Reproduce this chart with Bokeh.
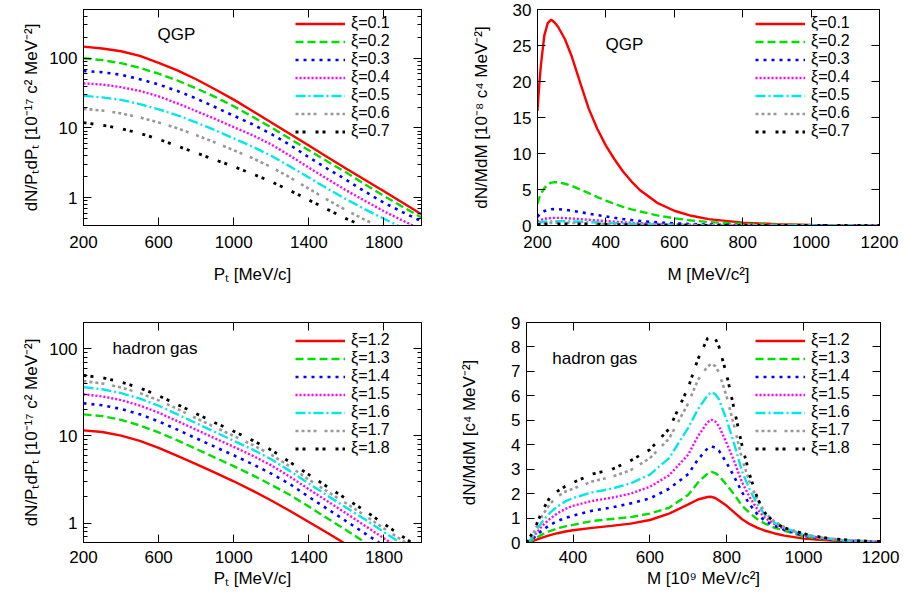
from bokeh.plotting import figure
from bokeh.layouts import column, row
from bokeh.models import (Range1d, FixedTicker, LinearAxis, LogAxis, Label, BasicTickFormatter,
                          CustomJSTickFormatter)
from bokeh.embed import file_html
from bokeh.resources import INLINE

FONT = "Liberation Sans"
FS = "17px"

# ---------------- data ----------------
pt_grid = [200, 300, 400, 500, 600, 700, 800, 900, 1000, 1100, 1200, 1300, 1400, 1500, 1600, 1700, 1800, 1900, 2000]

qgp_xi = ["0.1", "0.2", "0.3", "0.4", "0.5", "0.6", "0.7"]
had_xi = ["1.2", "1.3", "1.4", "1.5", "1.6", "1.7", "1.8"]

qgp_pt_01 = [147, 138, 126, 108, 86, 67, 50, 36, 25.5, 17.5, 12, 8.2, 5.6, 3.8, 2.6, 1.8, 1.24, 0.85, 0.58]
qgp_pt_02 = [100, 94, 85, 73, 60, 48, 37, 28, 20.5, 14.5, 10.2, 7.0, 4.8, 3.3, 2.3, 1.55, 1.06, 0.74, 0.52]
qgp_pt_03 = [65.6, 63, 58, 50, 42, 34, 26.5, 20, 15, 11.3, 8.2, 5.7, 3.8, 2.6, 1.8, 1.22, 0.85, 0.62, 0.46]
qgp_pt_04 = [43.6, 42, 38.5, 34, 28.5, 22.5, 17.5, 13.5, 10.3, 7.9, 5.8, 4.0, 2.7, 1.85, 1.27, 0.9, 0.64, 0.47, 0.35]
qgp_pt_05 = [28.9, 27.5, 25.3, 22, 18.5, 15.2, 12.0, 9.3, 7.1, 5.4, 4.0, 2.8, 1.95, 1.35, 0.95, 0.68, 0.5, 0.37, 0.28]
qgp_pt_06 = [18.8, 17.8, 16.2, 14.2, 12, 9.9, 7.9, 6.2, 4.8, 3.7, 2.75, 1.95, 1.35, 0.93, 0.66, 0.48, 0.36, 0.27, 0.2]
qgp_pt_07 = [11.9, 11, 9.8, 8.4, 6.9, 5.5, 4.4, 3.5, 2.8, 2.2, 1.7, 1.27, 0.93, 0.68, 0.5, 0.38, 0.29, 0.23, 0.18]

had_pt_12 = [11.6, 11.1, 10.1, 8.8, 7.3, 5.9, 4.75, 3.8, 3.02, 2.36, 1.82, 1.38, 1.03, 0.77, 0.57, 0.42, 0.31, 0.23, 0.17]
had_pt_13 = [17.7, 16.9, 15.3, 13.2, 11.0, 8.9, 7.1, 5.65, 4.5, 3.55, 2.75, 2.1, 1.55, 1.13, 0.83, 0.6, 0.44, 0.32, 0.23]
had_pt_14 = [23.7, 22.5, 20.4, 17.7, 14.7, 11.8, 9.4, 7.5, 6.0, 4.75, 3.7, 2.8, 2.0, 1.45, 1.05, 0.76, 0.55, 0.4, 0.29]
had_pt_15 = [30, 28.4, 25.8, 22.3, 18.5, 14.8, 11.8, 9.4, 7.5, 5.95, 4.6, 3.4, 2.45, 1.78, 1.29, 0.93, 0.67, 0.49, 0.36]
had_pt_16 = [36.3, 34.3, 31, 26.8, 22.2, 17.7, 14, 11.1, 8.8, 7.0, 5.4, 3.95, 2.85, 2.06, 1.5, 1.1, 0.79, 0.57, 0.41]
had_pt_17 = [42.5, 40, 36, 31, 25.6, 20.4, 16, 12.6, 10, 7.9, 6.1, 4.45, 3.15, 2.3, 1.68, 1.22, 0.87, 0.63, 0.46]
had_pt_18 = [49.5, 46.5, 41.5, 35.5, 29, 23, 18, 14.2, 11.3, 8.9, 6.9, 5.0, 3.6, 2.6, 1.9, 1.38, 0.98, 0.7, 0.5]

qgp_m = [200, 205, 210, 220, 230, 240, 250, 260, 280, 300, 325, 350, 375, 400, 425, 450, 475, 500, 550, 600, 650, 700, 800, 900, 1000, 1100, 1200]
qgp_m_01 = [15.9, 19.5, 22.3, 26.4, 28.1, 28.6, 28.2, 27.6, 25.9, 23.5, 19.8, 16.2, 13.4, 11.1, 9.2, 7.5, 6.1, 4.9, 3.15, 2.05, 1.35, 0.88, 0.4, 0.18, 0.08, 0.04, 0.02]
qgp_m_02 = [3.0, 3.8, 4.4, 5.2, 5.7, 5.95, 6.0, 6.0, 5.8, 5.5, 5.0, 4.5, 3.95, 3.45, 3.0, 2.6, 2.25, 1.95, 1.4, 1.0, 0.7, 0.48, 0.23, 0.11, 0.05, 0.025, 0.012]
qgp_m_03 = [1.2, 1.5, 1.7, 2.0, 2.15, 2.25, 2.28, 2.28, 2.2, 2.05, 1.85, 1.65, 1.45, 1.25, 1.07, 0.9, 0.76, 0.63, 0.43, 0.29, 0.2, 0.13, 0.06, 0.03, 0.015, 0.007, 0.004]
qgp_m_04 = [0.55, 0.68, 0.78, 0.92, 1.0, 1.04, 1.06, 1.06, 1.03, 0.97, 0.88, 0.79, 0.7, 0.61, 0.53, 0.45, 0.38, 0.32, 0.22, 0.15, 0.1, 0.07, 0.035, 0.017, 0.008, 0.004, 0.002]
qgp_m_05 = [0.32, 0.4, 0.46, 0.53, 0.58, 0.6, 0.61, 0.61, 0.6, 0.57, 0.52, 0.47, 0.42, 0.37, 0.32, 0.28, 0.24, 0.2, 0.14, 0.1, 0.07, 0.05, 0.025, 0.012, 0.006, 0.003, 0.0015]
qgp_m_06 = [0.2, 0.24, 0.28, 0.32, 0.35, 0.37, 0.375, 0.375, 0.37, 0.35, 0.32, 0.29, 0.26, 0.23, 0.2, 0.18, 0.15, 0.13, 0.09, 0.065, 0.045, 0.032, 0.016, 0.008, 0.004, 0.002, 0.001]
qgp_m_07 = [0.12, 0.15, 0.17, 0.2, 0.22, 0.23, 0.235, 0.235, 0.23, 0.22, 0.2, 0.18, 0.165, 0.145, 0.13, 0.11, 0.095, 0.08, 0.06, 0.042, 0.03, 0.021, 0.01, 0.005, 0.0025, 0.0012, 0.0006]

had_m = [279, 290, 300, 320, 340, 360, 380, 400, 450, 500, 550, 600, 650, 700, 725, 750, 760, 770, 780, 800, 820, 840, 860, 880, 900, 925, 950, 1000, 1050, 1100, 1150, 1200]
had_m_12 = [0, 0.03, 0.09, 0.2, 0.3, 0.38, 0.45, 0.5, 0.6, 0.68, 0.77, 0.92, 1.18, 1.56, 1.76, 1.86, 1.87, 1.82, 1.72, 1.5, 1.22, 0.95, 0.75, 0.6, 0.48, 0.37, 0.28, 0.16, 0.1, 0.06, 0.035, 0.02]
had_m_13 = [0, 0.05, 0.15, 0.33, 0.47, 0.58, 0.66, 0.72, 0.88, 0.96, 1.04, 1.18, 1.42, 1.95, 2.45, 2.82, 2.89, 2.84, 2.72, 2.35, 1.95, 1.5, 1.2, 0.95, 0.77, 0.6, 0.48, 0.25, 0.14, 0.08, 0.045, 0.025]
had_m_14 = [0, 0.07, 0.22, 0.5, 0.72, 0.88, 1.0, 1.1, 1.3, 1.43, 1.6, 1.8, 2.2, 2.8, 3.4, 3.85, 3.93, 3.88, 3.75, 3.25, 2.67, 2.05, 1.55, 1.15, 0.88, 0.68, 0.52, 0.28, 0.16, 0.09, 0.05, 0.03]
had_m_15 = [0, 0.1, 0.3, 0.68, 0.97, 1.2, 1.37, 1.5, 1.7, 1.83, 2.0, 2.28, 2.75, 3.6, 4.35, 4.92, 5.02, 4.95, 4.75, 4.05, 3.3, 2.45, 1.85, 1.35, 1.0, 0.75, 0.56, 0.3, 0.17, 0.1, 0.055, 0.03]
had_m_16 = [0, 0.12, 0.38, 0.85, 1.22, 1.48, 1.68, 1.82, 2.05, 2.2, 2.42, 2.78, 3.45, 4.7, 5.45, 6.02, 6.15, 6.07, 5.85, 5.0, 4.0, 2.9, 2.15, 1.55, 1.12, 0.8, 0.6, 0.32, 0.18, 0.1, 0.06, 0.035]
had_m_17 = [0, 0.15, 0.48, 1.1, 1.58, 1.88, 2.08, 2.2, 2.5, 2.68, 2.96, 3.45, 4.25, 5.7, 6.65, 7.2, 7.31, 7.22, 6.95, 5.95, 4.72, 3.4, 2.45, 1.75, 1.2, 0.85, 0.63, 0.34, 0.19, 0.11, 0.06, 0.035]
had_m_18 = [0, 0.28, 0.55, 1.3, 1.85, 2.1, 2.3, 2.45, 2.8, 2.98, 3.35, 3.8, 4.65, 6.35, 7.5, 8.35, 8.47, 8.35, 8.0, 6.85, 5.4, 3.95, 2.75, 1.8, 1.2, 0.8, 0.6, 0.36, 0.2, 0.12, 0.065, 0.04]

pt_ticks = [200, 600, 1000, 1400, 1800]
qgp_m_ticks = [200, 400, 600, 800, 1000, 1200]
had_m_ticks = [400, 600, 800, 1000, 1200]
log_ticks = [1, 10, 100]
qgp_m_yticks = [0, 5, 10, 15, 20, 25, 30]
had_m_yticks = [0, 1, 2, 3, 4, 5, 6, 7, 8, 9]

# ---------------- styles ----------------
COLORS = ["#ff0000", "#00e000", "#0000ff", "#ff00ff", "#00e8e8", "#999999", "#000000"]
DASHES = ["solid", "8 4", "3 5", "2 2", "10 3 2 3", "3 3 3 3 3 3 3 8", "3 4 3 10"]
WIDTHS = [2.4, 2.4, 2.6, 2.4, 2.4, 2.6, 2.8]

log_minor = [m * 10.0 ** e for e in (-1, 0, 1, 2) for m in range(2, 10)]


def style_axis(ax, labels=True, label_standoff=8, axis_standoff=8):
    ax.axis_line_color = "black"
    ax.major_tick_in = 8
    ax.major_tick_out = 0
    ax.minor_tick_in = 4
    ax.minor_tick_out = 0
    ax.major_tick_line_color = "black"
    ax.minor_tick_line_color = "black"
    ax.major_label_text_font = FONT
    ax.major_label_text_color = "black"
    ax.major_label_text_font_size = FS
    ax.axis_label_text_font = FONT
    ax.axis_label_text_font_size = FS
    ax.axis_label_text_font_style = "normal"
    ax.axis_label_text_color = "black"
    if labels:
        ax.major_label_standoff = label_standoff
        ax.axis_label_standoff = axis_standoff
    else:
        ax.formatter = CustomJSTickFormatter(code="return ''")
        ax.major_label_standoff = 0


def make_panel(xr, yr, ylog, fw, fh, bl, br, bt, bb, xt, yt, xlabel, ylabel, xts, xls, yls):
    p = figure(width=bl + fw + br, height=bt + fh + bb,
               min_border_left=bl, min_border_right=br,
               min_border_top=bt, min_border_bottom=bb,
               x_range=Range1d(*xr), y_range=Range1d(*yr),
               y_axis_type="log" if ylog else "linear",
               output_backend="svg", toolbar_location=None)
    p.xgrid.visible = False
    p.ygrid.visible = False
    p.outline_line_color = "black"
    p.outline_line_width = 1
    p.outline_line_alpha = 1
    p.background_fill_color = "white"
    xtk = FixedTicker(ticks=xt)
    if ylog:
        ytk = FixedTicker(ticks=yt, minor_ticks=log_minor)
    else:
        ytk = FixedTicker(ticks=yt)
    p.xaxis.ticker = xtk
    p.yaxis.ticker = ytk
    p.xaxis.axis_label = xlabel
    p.yaxis.axis_label = ylabel
    if ylog:
        p.yaxis.formatter = BasicTickFormatter()
        p.yaxis.major_label_overrides = {1: "1", 10: "10", 100: "100"}
    for ax in p.xaxis:
        style_axis(ax, label_standoff=xts, axis_standoff=xls)
    for ax in p.yaxis:
        style_axis(ax, label_standoff=6, axis_standoff=yls)
    top = LinearAxis(ticker=xtk)
    style_axis(top, labels=False)
    p.add_layout(top, "above")
    right = LogAxis(ticker=ytk) if ylog else LinearAxis(ticker=ytk)
    style_axis(right, labels=False)
    p.add_layout(right, "right")
    return p


def add_series(p, x, ys, xis):
    for i, (y, xi) in enumerate(zip(ys, xis)):
        p.line(x, y, line_color=COLORS[i], line_width=WIDTHS[i], line_dash=DASHES[i],
               legend_label="\u03be=" + xi)


def style_legend(p, margin, label_width):
    lg = p.legend[0]
    lg.location = "top_right"
    lg.padding = 0
    lg.margin = margin
    lg.spacing = 0
    lg.glyph_width = 50
    lg.glyph_height = 17
    lg.label_height = 17
    lg.label_width = label_width
    lg.label_standoff = 6
    lg.label_text_font = FONT
    lg.label_text_font_size = "16px"
    lg.label_text_color = "black"
    lg.background_fill_alpha = 0
    lg.border_line_alpha = 0


def add_text(p, x, y, text, align):
    p.add_layout(Label(x=x, y=y, text=text, text_font=FONT, text_font_size=FS,
                       text_align=align, text_baseline="middle", text_color="black"))


YL_PT = "dN/P\u209cdP\u209c [10\u207b\u00b9\u2077 c\u00b2 MeV\u207b\u00b2]"

p1 = make_panel((200, 2000), (0.4, 500), True, 338, 216, 83, 10, 9, 87,
                pt_ticks, log_ticks, "P\u209c [MeV/c]", YL_PT, 10, 14, 5)
add_series(p1, pt_grid, [qgp_pt_01, qgp_pt_02, qgp_pt_03, qgp_pt_04, qgp_pt_05, qgp_pt_06, qgp_pt_07], qgp_xi)
style_legend(p1, 5, 65)
add_text(p1, 695, 218, "QGP", "center")

p2 = make_panel((200, 1200), (0, 30), False, 342, 216, 106, 22, 9, 87,
                qgp_m_ticks, qgp_m_yticks, "M [MeV/c\u00b2]",
                "dN/MdM [10\u207b\u2078 c\u2074 MeV\u207b\u00b2]", 10, 14, 19)
add_series(p2, qgp_m, [qgp_m_01, qgp_m_02, qgp_m_03, qgp_m_04, qgp_m_05, qgp_m_06, qgp_m_07], qgp_xi)
style_legend(p2, 5, 63)
add_text(p2, 454, 25.2, "QGP", "center")

p3 = make_panel((200, 2000), (0.6, 200), True, 338, 220, 83, 10, 10, 60,
                pt_ticks, log_ticks, "P\u209c [MeV/c]", YL_PT, 8, 3, 5)
add_series(p3, pt_grid, [had_pt_12, had_pt_13, had_pt_14, had_pt_15, had_pt_16, had_pt_17, had_pt_18], had_xi)
style_legend(p3, 9, 61)
add_text(p3, 354, 100, "hadron gas", "left")

p4 = make_panel((279, 1200), (0, 9), False, 354, 220, 95, 22, 10, 60,
                had_m_ticks, had_m_yticks, "M [10\u2079 MeV/c\u00b2]",
                "dN/MdM [c\u2074 MeV\u207b\u00b2]", 8, 3, 29)
add_series(p4, had_m, [had_m_12, had_m_13, had_m_14, had_m_15, had_m_16, had_m_17, had_m_18], had_xi)
style_legend(p4, 9, 60)
add_text(p4, 346, 7.53, "hadron gas", "left")

layout = column(row(p1, p2), row(p3, p4))
open("out.html", "w").write(file_html(layout, INLINE))
